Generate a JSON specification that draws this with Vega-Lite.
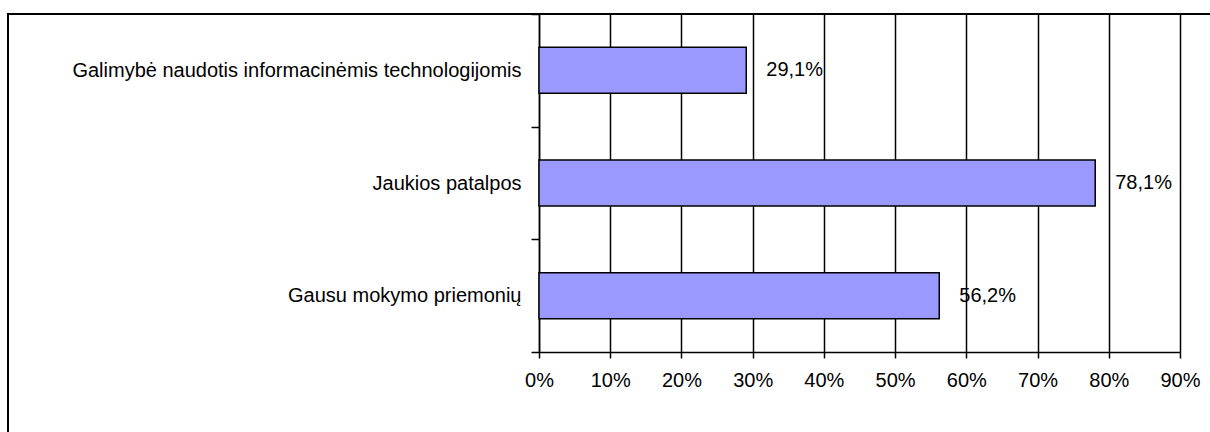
{
  "$schema": "https://vega.github.io/schema/vega-lite/v6.json",
  "autosize": {"type": "none"},
  "padding": {"left": 8, "top": 14, "right": 0, "bottom": 0},
  "width": 1210,
  "height": 430,
  "background": "white",
  "config": {
    "view": {"stroke": "black", "strokeWidth": 2},
    "font": "Liberation Sans",
    "locale": {"number": {"decimal": ",", "thousands": ".", "grouping": [3], "currency": ["", " €"]}}
  },
  "data": {
    "values": [
      {"category": "Galimybė naudotis informacinėmis technologijomis", "value": 0.291},
      {"category": "Jaukios patalpos", "value": 0.781},
      {"category": "Gausu mokymo priemonių", "value": 0.562}
    ]
  },
  "encoding": {
    "y": {
      "field": "category",
      "type": "nominal",
      "sort": null,
      "scale": {"range": [0, 338], "paddingInner": 0, "paddingOuter": 0},
      "axis": {
        "title": null,
        "offset": -531,
        "tickBand": "extent",
        "tickSize": 8,
        "tickColor": "black",
        "tickWidth": 1.5,
        "domainColor": "black",
        "domainWidth": 1.5,
        "labelPadding": 10,
        "labelFontSize": 20,
        "labelColor": "black",
        "labelFont": "Liberation Sans",
        "labelLimit": 0,
        "grid": false
      }
    }
  },
  "layer": [
    {
      "mark": {"type": "bar", "size": 46, "color": "#9999FF", "stroke": "black", "strokeWidth": 1.5},
      "encoding": {
        "x": {
          "field": "value",
          "type": "quantitative",
          "scale": {"domain": [0, 0.9], "range": [531, 1172], "nice": false, "zero": false},
          "axis": {
            "title": null,
            "orient": "top",
            "values": [0, 0.1, 0.2, 0.3, 0.4, 0.5, 0.6, 0.7, 0.8, 0.9],
            "grid": true,
            "gridColor": "black",
            "gridWidth": 1.5,
            "gridOpacity": 1,
            "domain": false,
            "ticks": false,
            "labels": false
          }
        }
      }
    },
    {
      "mark": {"type": "text", "align": "left", "baseline": "middle", "dx": 20, "fontSize": 20, "font": "Liberation Sans", "color": "black"},
      "encoding": {
        "x": {
          "field": "value",
          "type": "quantitative",
          "scale": {"domain": [0, 0.9], "range": [531, 1172], "nice": false, "zero": false},
          "axis": {
            "title": null,
            "orient": "bottom",
            "offset": -92,
            "values": [0, 0.1, 0.2, 0.3, 0.4, 0.5, 0.6, 0.7, 0.8, 0.9],
            "format": ".0%",
            "grid": false,
            "tickSize": 6,
            "tickColor": "black",
            "tickWidth": 1.5,
            "domainColor": "black",
            "domainWidth": 1.5,
            "labelPadding": 12,
            "labelFontSize": 20,
            "labelColor": "black",
            "labelFont": "Liberation Sans",
            "labelFlush": false
          }
        },
        "text": {"field": "value", "type": "quantitative", "format": ".1%"}
      }
    }
  ],
  "resolve": {"axis": {"x": "independent"}}
}
